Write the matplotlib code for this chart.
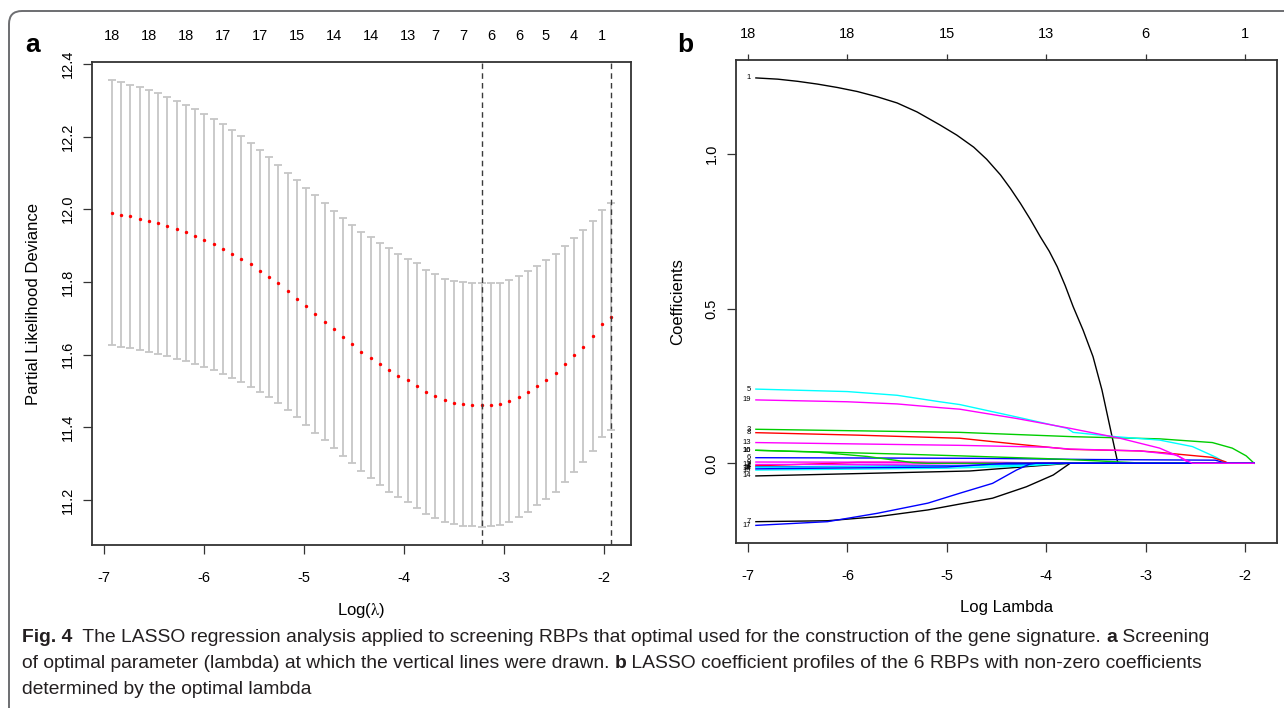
import numpy as np
import matplotlib
matplotlib.use('Agg')
import matplotlib.pyplot as plt
from matplotlib.path import Path
from matplotlib.patches import PathPatch

plt.rcParams['font.family'] = ['Liberation Sans', 'DejaVu Sans']
plt.rcParams['mathtext.fontset'] = 'stix'

W, H = 1284, 708

# ---------------- panel a : cross-validation curve ----------------
log_lambda = [-6.92, -6.83, -6.74, -6.64, -6.55, -6.46, -6.37, -6.27, -6.18, -6.09,
              -6.00, -5.90, -5.81, -5.72, -5.63, -5.53, -5.44, -5.35, -5.26, -5.16,
              -5.07, -4.98, -4.89, -4.79, -4.70, -4.61, -4.52, -4.43, -4.33, -4.24,
              -4.15, -4.06, -3.96, -3.87, -3.78, -3.69, -3.59, -3.50, -3.41, -3.32,
              -3.22, -3.13, -3.04, -2.95, -2.85, -2.76, -2.67, -2.58, -2.48, -2.39,
              -2.30, -2.21, -2.11, -2.02, -1.93]

cv_mean = [11.990, 11.985, 11.980, 11.974, 11.968, 11.961, 11.953, 11.945, 11.936, 11.926,
           11.915, 11.903, 11.890, 11.877, 11.862, 11.848, 11.831, 11.814, 11.796, 11.774,
           11.754, 11.733, 11.712, 11.691, 11.670, 11.649, 11.629, 11.608, 11.590, 11.574,
           11.557, 11.542, 11.529, 11.514, 11.497, 11.486, 11.475, 11.467, 11.464, 11.462,
           11.460, 11.461, 11.464, 11.472, 11.484, 11.497, 11.514, 11.530, 11.550, 11.574,
           11.598, 11.622, 11.651, 11.685, 11.704]

cv_upper = [12.355, 12.349, 12.343, 12.336, 12.327, 12.319, 12.310, 12.299, 12.288, 12.275,
            12.262, 12.248, 12.234, 12.218, 12.201, 12.183, 12.164, 12.143, 12.122, 12.101,
            12.080, 12.059, 12.038, 12.016, 11.996, 11.976, 11.957, 11.938, 11.923, 11.907,
            11.893, 11.878, 11.864, 11.851, 11.834, 11.821, 11.809, 11.803, 11.799, 11.796,
            11.796, 11.796, 11.798, 11.805, 11.817, 11.829, 11.845, 11.860, 11.877, 11.899,
            11.922, 11.942, 11.967, 11.997, 12.016]

cv_lower = [11.625, 11.621, 11.618, 11.613, 11.607, 11.602, 11.596, 11.589, 11.583, 11.574,
            11.566, 11.557, 11.547, 11.536, 11.524, 11.511, 11.497, 11.482, 11.466, 11.448,
            11.428, 11.407, 11.385, 11.364, 11.343, 11.322, 11.302, 11.281, 11.260, 11.241,
            11.223, 11.208, 11.193, 11.178, 11.162, 11.149, 11.140, 11.133, 11.129, 11.127,
            11.125, 11.127, 11.131, 11.140, 11.153, 11.167, 11.185, 11.203, 11.223, 11.249,
            11.277, 11.305, 11.336, 11.373, 11.393]

# number of non-zero coefficients shown on the top axis (index into log_lambda)
nzero_index = [0, 4, 8, 12, 16, 20, 24, 28, 32, 35, 38, 41, 44, 47, 50, 53]
nzero_label = ['18', '18', '18', '17', '17', '15', '14', '14', '13', '7', '7',
               '6', '6', '5', '4', '1']

lambda_min = -3.22
lambda_1se = -1.93

a_xticks = [-7, -6, -5, -4, -3, -2]
a_yticks = [11.2, 11.4, 11.6, 11.8, 12.0, 12.2, 12.4]

# ---------------- panel b : coefficient paths ----------------
b_xticks = [-7, -6, -5, -4, -3, -2]
b_top_label = ['18', '18', '15', '13', '6', '1']
b_yticks = [0.0, 0.5, 1.0]

v1_x = [-6.92, -6.7, -6.5, -6.3, -6.1, -5.9, -5.7, -5.5, -5.3, -5.07, -4.9, -4.73,
        -4.6, -4.46, -4.36, -4.26, -4.16, -4.06, -3.97, -3.89, -3.81, -3.73,
        -3.63, -3.53, -3.44, -3.36, -3.28, -1.91]
v1_y = [1.247, 1.243, 1.236, 1.227, 1.216, 1.203, 1.186, 1.166, 1.137, 1.095, 1.062, 1.023,
        0.984, 0.933, 0.889, 0.841, 0.789, 0.733, 0.686, 0.636, 0.575, 0.507,
        0.431, 0.345, 0.237, 0.118, 0.0, 0.0]
v2_x = [-6.92, -6.3, -5.9, -5.3, -5.0, -1.91]
v2_y = [-0.008, -0.002, 0.003, 0.003, 0.0, 0.0]
v3_x = [-6.92, -4.87, -3.73, -2.86, -2.33, -2.13, -1.99, -1.91]
v3_y = [0.110, 0.100, 0.086, 0.079, 0.067, 0.049, 0.024, 0.0]
v4_x = [-6.92, -5.0, -4.2, -3.9, -1.91]
v4_y = [-0.012, -0.008, -0.004, 0.0, 0.0]
v5_x = [-6.92, -6.0, -5.5, -5.07, -4.87, -4.3, -3.79, -3.73, -3.30, -2.86, -2.53,
        -2.29, -2.19, -1.91]
v5_y = [0.240, 0.232, 0.220, 0.199, 0.190, 0.150, 0.113, 0.100, 0.086, 0.075, 0.054,
        0.019, 0.0, 0.0]
v6_x = [-6.92, -4.7, -3.5, -2.3, -2.19, -1.91]
v6_y = [0.018, 0.016, 0.012, 0.010, 0.0, 0.0]
v7_x = [-6.92, -6.2, -5.7, -5.19, -4.87, -4.54, -4.20, -3.93, -3.76, -1.91]
v7_y = [-0.189, -0.186, -0.173, -0.151, -0.132, -0.113, -0.076, -0.038, 0.0, 0.0]
v8_x = [-6.92, -5.9, -4.87, -4.3, -3.76, -3.06, -2.86, -2.33, -2.20, -2.17, -1.91]
v8_y = [0.099, 0.091, 0.081, 0.062, 0.045, 0.040, 0.035, 0.019, 0.005, 0.0, 0.0]
v9_x = [-6.92, -4.5, -3.8, -1.91]
v9_y = [0.004, 0.003, 0.0, 0.0]
v10_x = [-6.92, -5.5, -4.87, -4.0, -3.5, -3.0, -1.91]
v10_y = [0.042, 0.030, 0.024, 0.015, 0.008, 0.0, 0.0]
v11_x = [-6.92, -5.0, -4.2, -3.8, -1.91]
v11_y = [-0.013, -0.010, -0.006, 0.0, 0.0]
v12_x = [-6.92, -5.5, -4.6, -1.91]
v12_y = [-0.004, -0.003, 0.0, 0.0]
v13_x = [-6.92, -4.87, -4.0, -3.76, -3.06, -2.69, -2.56, -1.91]
v13_y = [0.067, 0.058, 0.052, 0.046, 0.040, 0.027, 0.0, 0.0]
v14_x = [-6.92, -4.77, -3.76, -1.91]
v14_y = [-0.041, -0.025, 0.0, 0.0]
v15_x = [-6.92, -5.0, -4.3, -3.8, -1.91]
v15_y = [-0.022, -0.016, -0.010, 0.0, 0.0]
v16_x = [-6.92, -6.3, -5.8, -5.34, -5.2, -1.91]
v16_y = [0.042, 0.036, 0.022, 0.002, 0.0, 0.0]
v17_x = [-6.92, -6.2, -5.7, -5.19, -4.87, -4.54, -4.30, -4.17, -4.1, -1.91]
v17_y = [-0.201, -0.189, -0.162, -0.129, -0.097, -0.065, -0.022, -0.003, 0.0, 0.0]
v18_x = [-6.92, -5.0, -4.4, -1.91]
v18_y = [-0.018, -0.012, 0.0, 0.0]
v19_x = [-6.92, -6.0, -5.5, -5.07, -4.87, -4.3, -3.76, -3.26, -2.86, -2.66, -2.56,
         -2.53, -1.91]
v19_y = [0.205, 0.199, 0.192, 0.180, 0.175, 0.145, 0.113, 0.081, 0.049, 0.021, 0.004,
         0.0, 0.0]

paths_x = [v1_x, v2_x, v3_x, v4_x, v5_x, v6_x, v7_x, v8_x, v9_x, v10_x,
           v11_x, v12_x, v13_x, v14_x, v15_x, v16_x, v17_x, v18_x, v19_x]
paths_y = [v1_y, v2_y, v3_y, v4_y, v5_y, v6_y, v7_y, v8_y, v9_y, v10_y,
           v11_y, v12_y, v13_y, v14_y, v15_y, v16_y, v17_y, v18_y, v19_y]
path_colors = ['#000000', '#ff0000', '#00cd00', '#0000ff', '#00ffff', '#0000ff',
               '#000000', '#ff0000', '#ff00ff', '#00cd00', '#00ffff', '#ff00ff',
               '#ff00ff', '#000000', '#00ffff', '#00cd00', '#0000ff', '#0000ff',
               '#ff00ff']

# ---------------- figure ----------------
fig = plt.figure(figsize=(W / 100, H / 100), dpi=100)
fig.patch.set_facecolor('white')


def px_axes(left, top, right, bottom):
    return fig.add_axes([left / W, 1 - bottom / H, (right - left) / W, (bottom - top) / H])


tick_fs = 10.5
lab_fs = 12

# panel a
ax = px_axes(92, 62.4, 631, 545)
lo = np.array(cv_lower)
hi = np.array(cv_upper)
mu = np.array(cv_mean)
ax.errorbar(log_lambda, mu, yerr=[mu - lo, hi - mu], fmt='none', ecolor='#c6c6c6',
            elinewidth=1.3, capsize=2.9, capthick=1.3, zorder=2)
ax.scatter(log_lambda, mu, s=6, color='#ff0000', zorder=3, linewidths=0)
ax.axvline(lambda_min, color='#3a3a3a', lw=1.0, ls=(0, (4, 3)), zorder=4)
ax.axvline(lambda_1se, color='#3a3a3a', lw=1.0, ls=(0, (4, 3)), zorder=4)
ax.set_xlim(-7.12, -1.73)
ax.set_ylim(11.076, 12.404)
ax.set_xticks(a_xticks)
ax.set_xticklabels([str(t) for t in a_xticks])
ax.set_yticks(a_yticks)
ax.set_yticklabels(['%.1f' % t for t in a_yticks], rotation=90, va='center')
ax.tick_params(axis='both', labelsize=tick_fs, length=6.5, width=0.9, color='#333333')
ax.tick_params(axis='x', pad=12)
ax.tick_params(axis='y', pad=6)
for s in ax.spines.values():
    s.set_linewidth(1.3)
    s.set_color('#333333')
ax.set_xlabel(r'Log($\mathrm{\lambda}$)', fontsize=lab_fs, labelpad=12)
ax.set_ylabel('Partial Likelihood Deviance', fontsize=lab_fs, labelpad=14)
top_a = ax.secondary_xaxis('top')
top_a.set_xticks([log_lambda[i] for i in nzero_index], labels=nzero_label)
top_a.tick_params(length=0, labelsize=tick_fs, pad=14)
top_a.spines['top'].set_visible(False)
fig.text(33 / W, 1 - 45 / H, 'a', fontsize=19, fontweight='bold', ha='center', va='center')

# panel b
bx = px_axes(736, 60, 1277, 543.3)
for xs, ys, c in zip(paths_x, paths_y, path_colors):
    bx.plot(xs, ys, color=c, lw=1.0, solid_joinstyle='round')
for i, (xs, ys) in enumerate(zip(paths_x, paths_y)):
    bx.text(xs[0] - 0.05, ys[0], str(i + 1), fontsize=5.5, ha='right', va='center')
bx.set_xlim(-7.12, -1.68)
bx.set_ylim(-0.259, 1.305)
bx.set_xticks(b_xticks)
bx.set_xticklabels([str(t) for t in b_xticks])
bx.set_yticks(b_yticks)
bx.set_yticklabels(['%.1f' % t for t in b_yticks], rotation=90, va='center')
bx.tick_params(axis='both', labelsize=tick_fs, length=6.5, width=0.9, color='#333333')
bx.tick_params(axis='x', pad=12)
bx.tick_params(axis='y', pad=6)
for s in bx.spines.values():
    s.set_linewidth(1.3)
    s.set_color('#333333')
bx.set_xlabel('Log Lambda', fontsize=lab_fs, labelpad=12)
bx.set_ylabel('Coefficients', fontsize=lab_fs, labelpad=14)
top_b = bx.secondary_xaxis('top')
top_b.set_xticks(b_xticks, labels=b_top_label)
top_b.tick_params(length=4, width=0.9, labelsize=tick_fs, pad=10, color='#333333')
top_b.spines['top'].set_visible(False)
fig.text(685 / W, 1 - 45 / H, 'b', fontsize=19, fontweight='bold', ha='center', va='center')

# frame around the figure block
verts = [(9, H), (9, 24), (9, 11), (22, 11), (W + 5, 11)]
codes = [Path.MOVETO, Path.LINETO, Path.CURVE3, Path.CURVE3, Path.LINETO]
verts = [(x / W, 1 - y / H) for x, y in verts]
fig.patches.append(PathPatch(Path(verts, codes), transform=fig.transFigure,
                             facecolor='none', edgecolor='#6d6e71', lw=1.4))

# caption
cap_font = ['Liberation Sans Narrow', 'Liberation Sans', 'DejaVu Sans']
cap_lines = [
    [('Fig. 4', True),
     ('  The LASSO regression analysis applied to screening RBPs that optimal used for the construction of the gene signature. ', False),
     ('a', True), (' Screening', False)],
    [('of optimal parameter (lambda) at which the vertical lines were drawn. ', False),
     ('b', True), (' LASSO coefficient profiles of the 6 RBPs with non-zero coefficients', False)],
    [('determined by the optimal lambda', False)],
]
cap_y = [637, 664, 690]
renderer = fig.canvas.get_renderer()


def draw_line(runs, x0, y, size):
    x = x0
    for txt, bold in runs:
        t = fig.text(x / W, 1 - y / H, txt, fontsize=size, family=cap_font,
                     fontweight='bold' if bold else 'normal', ha='left', va='center',
                     color='#231f20')
        x += t.get_window_extent(renderer=renderer).width
    return x


probe = draw_line(cap_lines[0], 0, -100, 12)
for t in list(fig.texts):
    if t.get_position()[1] > 1:
        t.remove()
cap_size = 12 * (1212 - 22) / probe
for runs, y in zip(cap_lines, cap_y):
    draw_line(runs, 22, y, cap_size)

fig.savefig('out.png', dpi=100, facecolor='white')
